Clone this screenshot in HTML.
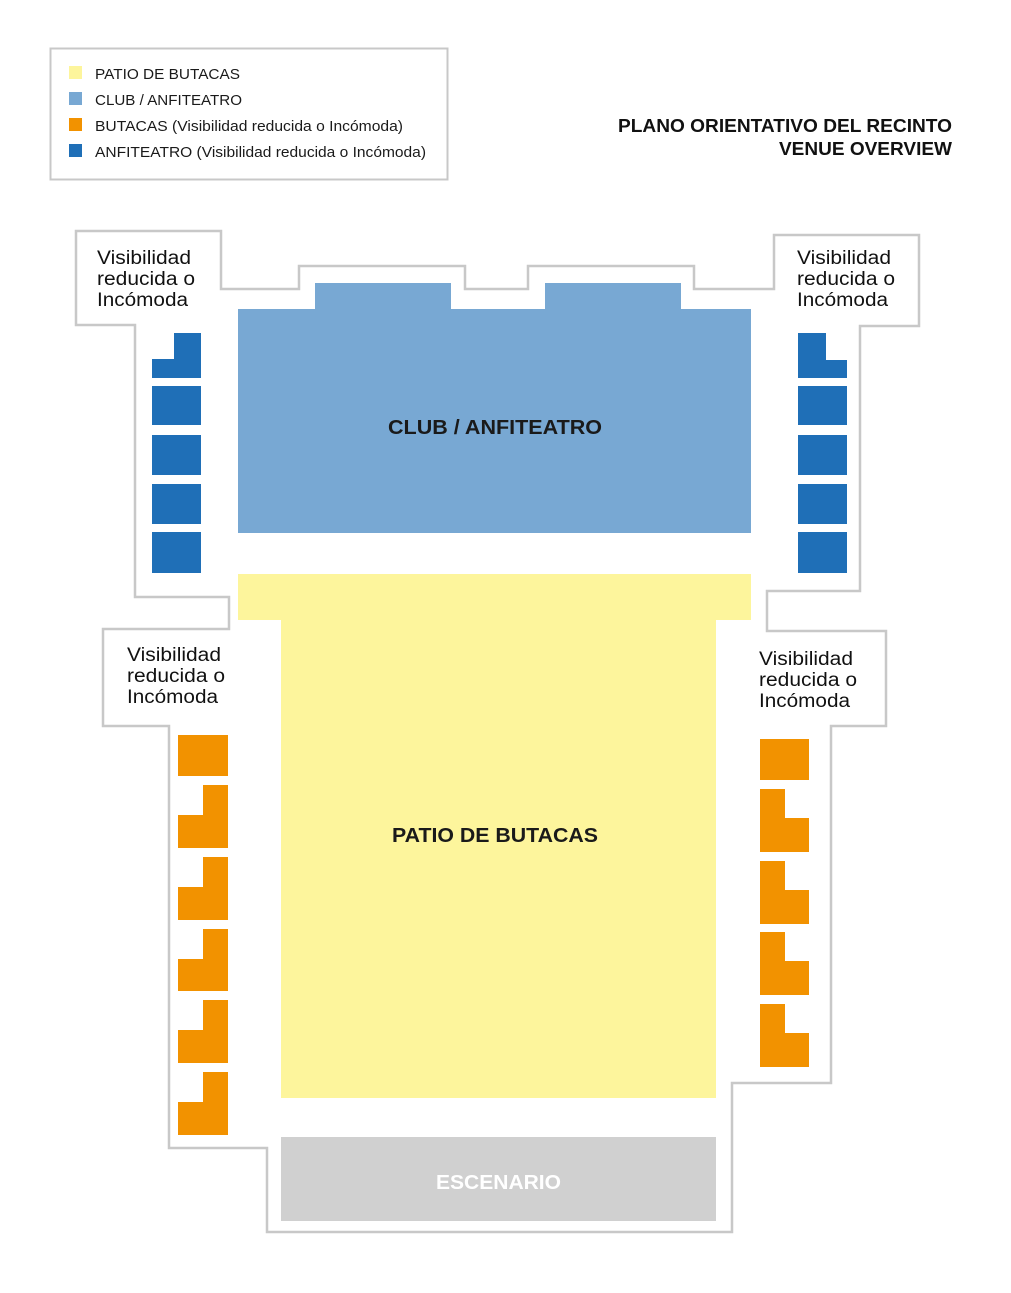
<!DOCTYPE html>
<html><head><meta charset="utf-8"><style>
html,body{margin:0;padding:0;background:#fff;}
svg{display:block;}
text{font-family:"Liberation Sans",sans-serif;}
</style></head><body>
<svg width="1011" height="1293" viewBox="0 0 1011 1293" xmlns="http://www.w3.org/2000/svg">
<rect width="1011" height="1293" fill="#fff"/>
<!-- legend -->
<rect x="50.5" y="48.5" width="397" height="131" fill="#fff" stroke="#c8c8c8" stroke-width="2"/>
<rect x="69" y="66" width="13" height="13" fill="#fdf59c"/>
<rect x="69" y="92" width="13" height="13" fill="#78a8d3"/>
<rect x="69" y="118" width="13" height="13" fill="#f29200"/>
<rect x="69" y="144" width="13" height="13" fill="#1f6fb7"/>
<g font-size="15" fill="#1a1a1a" lengthAdjust="spacingAndGlyphs">
<text x="95" y="79" textLength="145" lengthAdjust="spacingAndGlyphs">PATIO DE BUTACAS</text>
<text x="95" y="105" textLength="147" lengthAdjust="spacingAndGlyphs">CLUB / ANFITEATRO</text>
<text x="95" y="131" textLength="308" lengthAdjust="spacingAndGlyphs">BUTACAS (Visibilidad reducida o Incómoda)</text>
<text x="95" y="157" textLength="331" lengthAdjust="spacingAndGlyphs">ANFITEATRO (Visibilidad reducida o Incómoda)</text>
</g>
<g font-size="18.5" font-weight="bold" fill="#111">
<text x="618" y="132" textLength="334" lengthAdjust="spacingAndGlyphs">PLANO ORIENTATIVO DEL RECINTO</text>
<text x="779" y="155" textLength="173" lengthAdjust="spacingAndGlyphs">VENUE OVERVIEW</text>
</g>
<!-- outline -->
<polygon fill="none" stroke="#c8c8c8" stroke-width="2.5" points="76,231 221,231 221,289 299,289 299,266 465,266 465,289 528,289 528,266 694,266 694,289 774,289 774,235 919,235 919,326 860,326 860,591 767,591 767,631 886,631 886,726 831,726 831,1083 732,1083 732,1232 267,1232 267,1148 169,1148 169,726 103,726 103,629 229,629 229,597 135,597 135,325 76,325"/>
<!-- club -->
<polygon fill="#78a8d3" points="238,309 315,309 315,283 451,283 451,309 545,309 545,283 681,283 681,309 751,309 751,533 238,533"/>
<text x="388" y="434" font-size="20" font-weight="bold" fill="#1a1a1a" textLength="214" lengthAdjust="spacingAndGlyphs">CLUB / ANFITEATRO</text>
<!-- patio -->
<polygon fill="#fdf59c" points="238,574 751,574 751,620 716,620 716,1098 281,1098 281,620 238,620"/>
<text x="392" y="842" font-size="20" font-weight="bold" fill="#1a1a1a" textLength="206" lengthAdjust="spacingAndGlyphs">PATIO DE BUTACAS</text>
<!-- stage -->
<rect x="281" y="1137" width="435" height="84" fill="#d0d0d0"/>
<text x="436" y="1189" font-size="20" font-weight="bold" fill="#fff" textLength="125" lengthAdjust="spacingAndGlyphs">ESCENARIO</text>
<!-- labels -->
<g font-size="19" fill="#111">
<text x="97" y="264" textLength="94" lengthAdjust="spacingAndGlyphs">Visibilidad</text><text x="97" y="285" textLength="98" lengthAdjust="spacingAndGlyphs">reducida o</text><text x="97" y="306" textLength="91" lengthAdjust="spacingAndGlyphs">Incómoda</text>
<text x="797" y="264" textLength="94" lengthAdjust="spacingAndGlyphs">Visibilidad</text><text x="797" y="285" textLength="98" lengthAdjust="spacingAndGlyphs">reducida o</text><text x="797" y="306" textLength="91" lengthAdjust="spacingAndGlyphs">Incómoda</text>
<text x="127" y="661" textLength="94" lengthAdjust="spacingAndGlyphs">Visibilidad</text><text x="127" y="682" textLength="98" lengthAdjust="spacingAndGlyphs">reducida o</text><text x="127" y="703" textLength="91" lengthAdjust="spacingAndGlyphs">Incómoda</text>
<text x="759" y="665" textLength="94" lengthAdjust="spacingAndGlyphs">Visibilidad</text><text x="759" y="686" textLength="98" lengthAdjust="spacingAndGlyphs">reducida o</text><text x="759" y="707" textLength="91" lengthAdjust="spacingAndGlyphs">Incómoda</text>
</g>
<!-- blue seats -->
<g fill="#1f6fb7">
<polygon points="174,333 201,333 201,378 152,378 152,359 174,359"/>
<rect x="152" y="386" width="49" height="39"/>
<rect x="152" y="435" width="49" height="40"/>
<rect x="152" y="484" width="49" height="40"/>
<rect x="152" y="532" width="49" height="41"/>
<polygon points="798,333 826,333 826,360 847,360 847,378 798,378"/>
<rect x="798" y="386" width="49" height="39"/>
<rect x="798" y="435" width="49" height="40"/>
<rect x="798" y="484" width="49" height="40"/>
<rect x="798" y="532" width="49" height="41"/>
</g>
<!-- orange seats -->
<g fill="#f29200">
<rect x="178" y="735" width="50" height="41"/>
<polygon points="203,785 228,785 228,848 178,848 178,815 203,815"/>
<polygon points="203,857 228,857 228,920 178,920 178,887 203,887"/>
<polygon points="203,929 228,929 228,991 178,991 178,959 203,959"/>
<polygon points="203,1000 228,1000 228,1063 178,1063 178,1030 203,1030"/>
<polygon points="203,1072 228,1072 228,1135 178,1135 178,1102 203,1102"/>
<rect x="760" y="739" width="49" height="41"/>
<polygon points="760,789 785,789 785,818 809,818 809,852 760,852"/>
<polygon points="760,861 785,861 785,890 809,890 809,924 760,924"/>
<polygon points="760,932 785,932 785,961 809,961 809,995 760,995"/>
<polygon points="760,1004 785,1004 785,1033 809,1033 809,1067 760,1067"/>
</g>
</svg>
</body></html>
